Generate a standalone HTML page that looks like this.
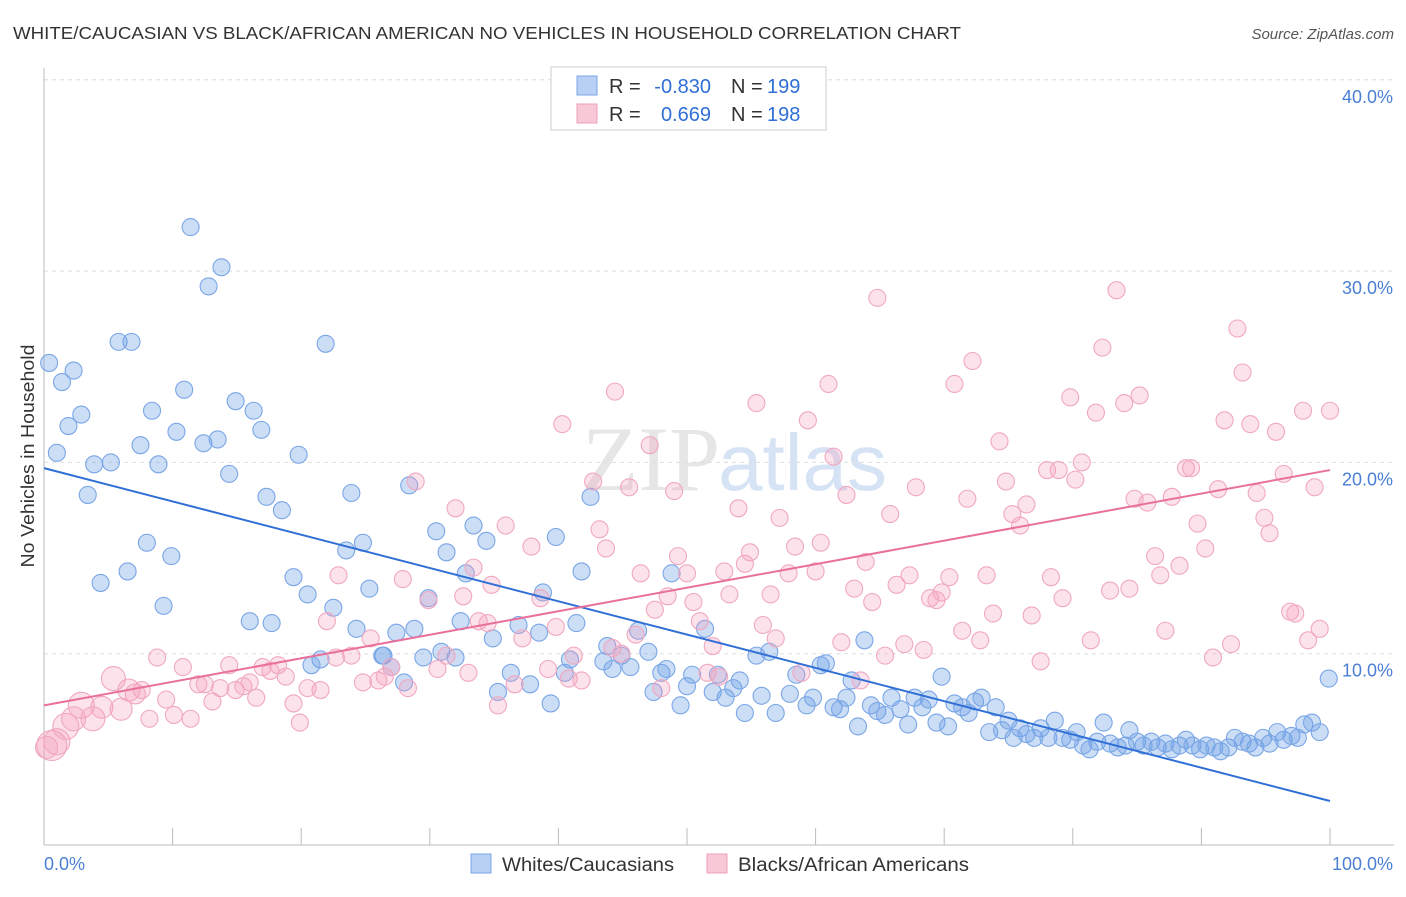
<!DOCTYPE html>
<html><head><meta charset="utf-8"><style>
html,body{margin:0;padding:0;background:#fff;}
body{width:1406px;height:892px;overflow:hidden;font-family:"Liberation Sans",sans-serif;}
</style></head><body>
<svg id="chart" width="1406" height="892" xmlns="http://www.w3.org/2000/svg" font-family="Liberation Sans, sans-serif">
<text x="13" y="39" font-size="17.5" fill="#333" textLength="948" lengthAdjust="spacingAndGlyphs">WHITE/CAUCASIAN VS BLACK/AFRICAN AMERICAN NO VEHICLES IN HOUSEHOLD CORRELATION CHART</text>
<text x="1394" y="39" font-size="15" fill="#555" font-style="italic" text-anchor="end">Source: ZipAtlas.com</text>
<text x="720" y="490" font-size="92" fill="#e6e6e6" text-anchor="end" font-family="Liberation Serif, serif">ZIP</text>
<text x="718" y="490" font-size="80" fill="#d6e3f5">atlas</text>
<g id="grid"></g>
<g id="axes"></g>
<g id="blue-pts"></g>
<g id="pink-pts"></g>
<g id="trends"></g>
<text transform="translate(34,456) rotate(-90)" font-size="18" fill="#333" text-anchor="middle" textLength="223" lengthAdjust="spacingAndGlyphs">No Vehicles in Household</text>
<text x="44" y="870" font-size="18" fill="#4a7fd4">0.0%</text>
<text x="1393" y="870" font-size="18" fill="#4a7fd4" text-anchor="end">100.0%</text>
<g>
<rect x="551" y="67" width="275" height="63" fill="#fff" stroke="#ccc"/>
<rect x="577" y="76" width="20" height="19" fill="#b8d0f4" stroke="#7aa6e8"/>
<rect x="577" y="104" width="20" height="19" fill="#f8c8d6" stroke="#eea0b8"/>
<text x="609" y="93" font-size="20" fill="#333">R =</text>
<text x="711" y="93" font-size="20" fill="#2f6fd6" text-anchor="end">-0.830</text>
<text x="731" y="93" font-size="20" fill="#333">N =</text>
<text x="767" y="93" font-size="20" fill="#2f6fd6">199</text>
<text x="609" y="121" font-size="20" fill="#333">R =</text>
<text x="711" y="121" font-size="20" fill="#2f6fd6" text-anchor="end">0.669</text>
<text x="731" y="121" font-size="20" fill="#333">N =</text>
<text x="767" y="121" font-size="20" fill="#2f6fd6">198</text>
</g>
<g><rect x="471" y="854" width="20" height="19" fill="#b8d0f4" stroke="#7aa6e8"/><text x="502" y="871" font-size="19" fill="#333" textLength="172" lengthAdjust="spacingAndGlyphs">Whites/Caucasians</text></g>
<g><rect x="707" y="854" width="20" height="19" fill="#f8c8d6" stroke="#eea0b8"/><text x="738" y="871" font-size="19" fill="#333" textLength="231" lengthAdjust="spacingAndGlyphs">Blacks/African Americans</text></g>
</svg>
<script>
const yTicks=[10,20,30,40];
const yTickLabels=["10.0%","20.0%","30.0%","40.0%"];
const xTicks=[0,10,20,30,40,50,60,70,80,90,100];
const blueX=[0.4,1.4,2.3,2.9,1.9,1.0,3.9,5.2,3.4,5.8,6.8,11.4,13.8,12.8,10.9,8.4,10.3,7.5,8.9,12.4,13.5,14.9,16.3,16.9,14.4,17.3,18.5,19.8,21.9,23.9,8.0,9.9,6.5,4.4,9.3,16.0,17.7,19.4,20.5,22.5,23.5,24.8,25.3,28.4,30.5,31.3,33.4,34.4,32.8,29.9,27.4,24.3,26.4,28.8,32.4,34.9,36.9,38.8,39.8,41.8,42.5,38.5,41.4,21.5,20.8,26.3,27.0,28.0,29.5,30.9,32.0,35.3,36.3,37.8,39.4,40.5,40.9,43.5,43.8,44.9,46.2,44.2,45.6,47.0,48.0,48.4,48.8,47.4,49.5,50.0,50.4,51.4,52.0,52.4,53.0,53.6,54.1,54.5,55.4,55.8,56.4,56.9,58.0,58.5,59.3,59.8,60.4,60.8,61.4,61.9,62.4,62.8,63.3,63.8,64.3,64.8,65.4,65.9,66.6,67.2,67.7,68.3,68.8,69.4,69.8,70.3,70.8,71.4,71.9,72.4,72.9,73.5,74.0,74.5,75.0,75.4,75.9,76.4,77.0,77.5,78.1,78.6,79.2,79.8,80.3,80.8,81.3,81.9,82.4,82.9,83.5,84.1,84.4,85.0,85.5,86.1,86.6,87.2,87.7,88.3,88.8,89.3,89.9,90.4,91.0,91.5,92.1,92.6,93.2,93.7,94.2,94.8,95.3,95.9,96.4,97.0,97.5,98.0,98.6,99.2,99.9];
const blueY=[25.2,24.2,24.8,22.5,21.9,20.5,19.9,20.0,18.3,26.3,26.3,32.3,30.2,29.2,23.8,22.7,21.6,20.9,19.9,21.0,21.2,23.2,22.7,21.7,19.4,18.2,17.5,20.4,26.2,18.4,15.8,15.1,14.3,13.7,12.5,11.7,11.6,14.0,13.1,12.4,15.4,15.8,13.4,18.8,16.4,15.3,16.7,15.9,14.2,12.9,11.1,11.3,9.9,11.3,11.7,10.8,11.5,13.2,16.1,14.3,18.2,11.1,11.6,9.7,9.4,9.9,9.3,8.5,9.8,10.1,9.8,8.0,9.0,8.4,7.4,9.0,9.7,9.6,10.4,9.9,11.2,9.2,9.3,10.1,9.0,9.2,14.2,8.0,7.3,8.3,8.9,11.3,8.0,8.9,7.7,8.2,8.6,6.9,9.9,7.8,10.1,6.9,7.9,8.9,7.3,7.7,9.4,9.5,7.2,7.1,7.7,8.6,6.2,10.7,7.3,7.0,6.8,7.7,7.1,6.3,7.7,7.2,7.6,6.4,8.8,6.2,7.4,7.2,6.9,7.5,7.7,5.9,7.2,6.0,6.5,5.6,6.1,5.8,5.6,6.1,5.6,6.5,5.6,5.5,5.9,5.2,5.0,5.4,6.4,5.3,5.1,5.2,6.0,5.4,5.2,5.4,5.1,5.3,5.0,5.2,5.5,5.2,5.0,5.2,5.1,4.9,5.1,5.6,5.4,5.3,5.1,5.6,5.3,5.9,5.5,5.7,5.6,6.3,6.4,5.9,8.7];
const pinkX=[0.6,1.0,0.2,1.7,2.3,2.9,3.8,4.5,5.4,6.0,6.6,7.1,7.6,8.2,8.8,9.5,10.1,10.8,11.4,12.0,12.5,13.1,13.7,14.4,14.9,15.5,16.0,16.5,17.0,17.6,18.2,18.8,19.4,19.9,20.5,21.5,22.0,22.7,22.9,23.9,24.8,25.4,26.0,26.5,27.0,27.9,28.3,28.9,29.9,30.6,31.3,32.0,32.6,33.0,33.4,33.8,34.5,34.8,35.3,35.9,36.6,37.2,37.9,38.6,39.2,39.8,40.3,40.8,41.2,41.8,42.7,43.2,43.7,44.2,44.4,44.9,45.5,46.0,46.4,47.1,47.5,48.0,48.5,49.0,49.3,50.0,50.5,51.0,51.6,52.0,52.5,52.9,53.3,54.0,54.5,54.9,55.4,55.9,56.5,56.9,57.2,57.9,58.4,58.9,59.4,60.0,60.4,61.0,61.4,62.0,62.4,63.0,63.5,63.9,64.4,64.8,65.4,65.8,66.3,66.9,67.3,67.8,68.4,68.9,69.4,69.8,70.4,70.8,71.4,71.8,72.2,72.8,73.3,73.8,74.3,74.8,75.3,75.9,76.4,76.8,77.5,78.0,78.3,78.9,79.2,79.8,80.2,80.7,81.4,81.8,82.3,82.9,83.4,84.0,84.4,84.8,85.2,85.8,86.4,86.8,87.2,87.7,88.3,88.8,89.2,89.7,90.3,90.9,91.3,91.8,92.3,92.8,93.2,93.8,94.3,94.9,95.3,95.8,96.4,96.9,97.3,97.9,98.3,98.8,99.2,100.0];
const pinkY=[5.2,5.4,5.1,6.2,6.6,7.3,6.6,7.2,8.7,7.1,8.1,7.9,8.1,6.6,9.8,7.6,6.8,9.3,6.6,8.4,8.4,7.5,8.2,9.4,8.1,8.3,8.5,7.7,9.3,9.1,9.4,8.8,7.4,6.4,8.2,8.1,11.7,9.8,14.1,9.9,8.5,10.8,8.6,8.8,9.3,13.9,8.2,19.0,12.8,9.2,9.9,17.6,13.0,9.0,14.5,11.7,11.6,13.6,7.3,16.7,8.4,10.8,15.6,12.9,9.2,11.4,22.0,8.7,9.9,8.6,19.0,16.5,15.5,10.3,23.7,10.0,18.7,11.0,14.2,20.9,12.3,8.2,13.0,18.5,15.1,14.2,12.7,11.7,9.0,10.4,8.8,14.3,13.1,17.6,14.7,15.3,23.1,11.5,13.1,10.8,17.1,14.2,15.6,9.0,22.2,14.3,15.8,24.1,20.3,10.6,18.3,13.4,8.6,14.8,12.7,28.6,9.9,17.3,13.6,10.5,14.1,18.7,10.2,12.9,12.8,13.2,14.0,24.1,11.2,18.1,25.3,10.7,14.1,12.1,21.1,19.0,17.3,16.7,17.8,12.0,9.6,19.6,14.0,19.6,12.9,23.4,19.1,20.0,10.7,22.6,26.0,13.3,29.0,23.1,13.4,18.1,23.5,17.9,15.1,14.1,11.2,18.2,14.6,19.7,19.7,16.8,15.5,9.8,18.6,22.2,10.5,27.0,24.7,22.0,18.4,17.1,16.3,21.6,19.4,12.2,12.1,22.7,10.7,18.7,11.3,22.7];
const pinkLargeR=[15,13,11,13,12,13,12,11,12,11,11,10];
const blueTrend=[19.7,2.3];
const pinkTrend=[7.3,19.6];
const X0=44,X1=1330,Y0=845,PX10=19.13;
const sx=v=>X0+(X1-X0)*v/100;
const sy=v=>Y0-v*PX10;
const NS="http://www.w3.org/2000/svg";
function mk(tag,attrs,parent){const e=document.createElementNS(NS,tag);for(const k in attrs)e.setAttribute(k,attrs[k]);parent.appendChild(e);return e;}
const grid=document.getElementById('grid');
yTicks.forEach((t,i)=>{
 const l=mk('line',{x1:44,x2:1394,y1:sy(t),y2:sy(t),stroke:'#ddd','stroke-dasharray':'4,4'},grid);
 
 
 const tx=mk('text',{x:1393,y:sy(t)+23,'font-size':18,fill:'#4a7fd4','text-anchor':'end'},grid);
 tx.textContent=yTickLabels[i];
 
 
});
const axes=document.getElementById('axes');
const ya=mk('line',{x1:44,x2:44,y1:68,y2:845,stroke:'#bbb'},axes);


const xa=mk('line',{x1:44,x2:1394,y1:845,y2:845,stroke:'#bbb'},axes);


xTicks.forEach(t=>{
 const l=mk('line',{x1:sx(t),x2:sx(t),y1:828,y2:845,stroke:'#bbb'},axes);
 
 
});
const bg=document.getElementById('blue-pts');
blueX.forEach((x,i)=>{
 const c=mk('circle',{cx:sx(x),cy:sy(blueY[i]),r:8.5,fill:'rgba(110,160,230,0.35)',stroke:'#7aa6e6','stroke-width':1.1},bg);
 
 
});
const pg=document.getElementById('pink-pts');
pinkX.forEach((x,i)=>{
 const r=i<pinkLargeR.length?pinkLargeR[i]:8.5;
 const c=mk('circle',{cx:sx(x),cy:sy(pinkY[i]),r:r,fill:'rgba(245,160,190,0.3)',stroke:'#f0a8c0','stroke-width':1.1},pg);
 
 
});
const tg=document.getElementById('trends');
const bl=mk('line',{x1:sx(0),y1:sy(blueTrend[0]),x2:sx(100),y2:sy(blueTrend[1]),stroke:'#2f6fd6','stroke-width':2},tg);


const pl=mk('line',{x1:sx(0),y1:sy(pinkTrend[0]),x2:sx(100),y2:sy(pinkTrend[1]),stroke:'#e8709a','stroke-width':2},tg);


</script>
</body></html>
